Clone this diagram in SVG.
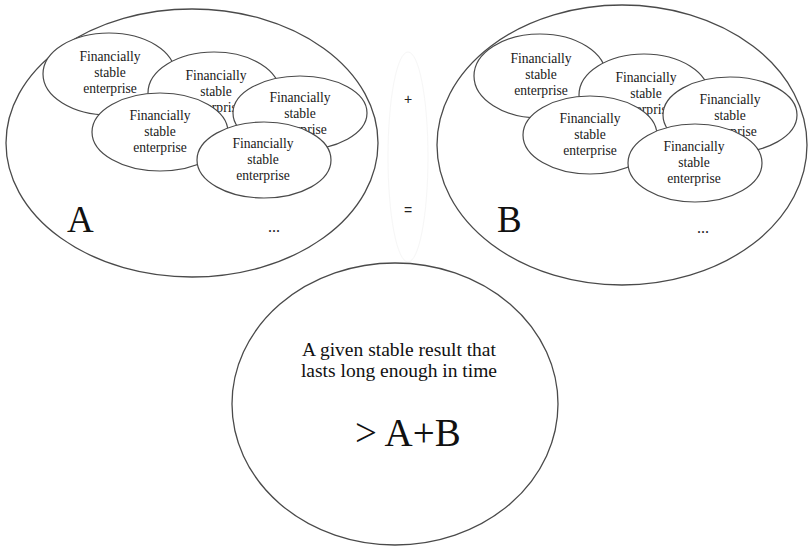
<svg xmlns="http://www.w3.org/2000/svg" width="808" height="546" viewBox="0 0 808 546">
<style>
.big{fill:#fff;stroke:#4a4a4a;stroke-width:1.3}
.sm{fill:#fff;stroke:#4a4a4a;stroke-width:1.2}
.faint{fill:none;stroke:#f6f6f6;stroke-width:1}
.t{font-family:'Liberation Serif','Times New Roman',serif;font-size:13.6px;fill:#1a1a1a;text-anchor:middle}
.lbl{font-family:'Liberation Serif','Times New Roman',serif;font-size:37px;fill:#111}
.dots{font-family:'Liberation Serif','Times New Roman',serif;font-size:16px;fill:#222}
.op{font-family:'Liberation Sans',Arial,sans-serif;font-size:14px;fill:#222;text-anchor:middle}
.res{font-family:'Liberation Serif','Times New Roman',serif;font-size:19.5px;fill:#111;text-anchor:middle}
.cmp{font-family:'Liberation Serif','Times New Roman',serif;font-size:39px;fill:#111}
</style>
<rect width="808" height="546" fill="#fff"/>
<g id="ops">
<ellipse class="faint" cx="408" cy="157" rx="20" ry="105"/>
<text class="op" x="408" y="104">+</text>
<text class="op" x="408" y="215">=</text>
</g>
<g id="setA">
<ellipse class="big" cx="192" cy="143" rx="186" ry="134"/>
<text class="lbl" x="67" y="232">A</text>
<text class="dots" x="268" y="232">...</text>
</g>
<g id="a1"><ellipse class="sm" cx="109" cy="74" rx="66" ry="41"/><text class="t" x="110" y="61">Financially<tspan x="110" dy="16">stable</tspan><tspan x="110" dy="16">enterprise</tspan></text></g>
<g id="a2"><ellipse class="sm" cx="214" cy="93" rx="66" ry="41"/><text class="t" x="216" y="80">Financially<tspan x="216" dy="16">stable</tspan><tspan x="216" dy="16">enterprise</tspan></text></g>
<g id="a3"><ellipse class="sm" cx="300" cy="113" rx="67" ry="37"/><text class="t" x="300" y="102">Financially<tspan x="300" dy="16">stable</tspan><tspan x="300" dy="16">enterprise</tspan></text></g>
<g id="a4"><ellipse class="sm" cx="160" cy="132" rx="68" ry="39"/><text class="t" x="160" y="120">Financially<tspan x="160" dy="16">stable</tspan><tspan x="160" dy="16">enterprise</tspan></text></g>
<g id="a5"><ellipse class="sm" cx="264" cy="160" rx="67" ry="38"/><text class="t" x="263" y="148">Financially<tspan x="263" dy="16">stable</tspan><tspan x="263" dy="16">enterprise</tspan></text></g>
<g id="setB">
<ellipse class="big" cx="622" cy="145" rx="185" ry="140"/>
<text class="lbl" x="497" y="232">B</text>
<text class="dots" x="697" y="233">...</text>
</g>
<g id="b1"><ellipse class="sm" cx="540" cy="76" rx="66" ry="42"/><text class="t" x="541" y="63">Financially<tspan x="541" dy="16">stable</tspan><tspan x="541" dy="16">enterprise</tspan></text></g>
<g id="b2"><ellipse class="sm" cx="644" cy="95" rx="65" ry="41"/><text class="t" x="646" y="82">Financially<tspan x="646" dy="16">stable</tspan><tspan x="646" dy="16">enterprise</tspan></text></g>
<g id="b3"><ellipse class="sm" cx="730" cy="115" rx="67" ry="38"/><text class="t" x="730" y="104">Financially<tspan x="730" dy="16">stable</tspan><tspan x="730" dy="16">enterprise</tspan></text></g>
<g id="b4"><ellipse class="sm" cx="590" cy="135" rx="67" ry="39"/><text class="t" x="590" y="123">Financially<tspan x="590" dy="16">stable</tspan><tspan x="590" dy="16">enterprise</tspan></text></g>
<g id="b5"><ellipse class="sm" cx="695" cy="163" rx="67" ry="39"/><text class="t" x="694" y="151">Financially<tspan x="694" dy="16">stable</tspan><tspan x="694" dy="16">enterprise</tspan></text></g>
<g id="result">
<ellipse class="big" cx="395" cy="404" rx="163" ry="141"/>
<text class="res" x="399" y="356">A given stable result that</text>
<text class="res" x="399" y="377">lasts long enough in time</text>
<text class="cmp" x="355" y="446">&gt; A+B</text>
</g>
</svg>
